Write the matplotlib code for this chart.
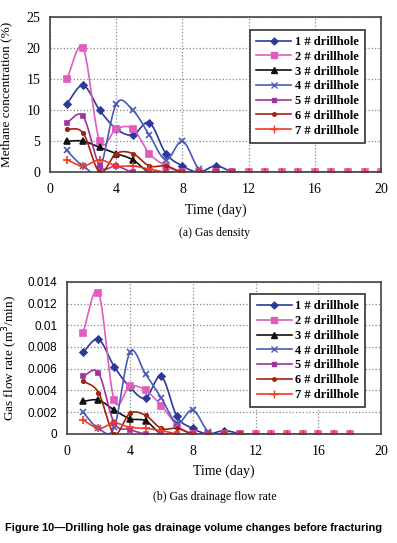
import numpy as np
import matplotlib.pyplot as plt

# days on the x axis
days = list(range(1, 21))

# (a) methane concentration (%)
conc_1 = [11, 14, 10, 7, 6, 8, 3, 1, 0, 1, 0]
conc_2 = [15, 20, 5, 7, 7, 3, 1, 0, 0, 0, 0, 0, 0, 0, 0, 0, 0, 0, 0, 0]
conc_3 = [5, 5, 4, 3, 2, 0, 0, 0, 0, 0, 0]
conc_4 = [3.5, 1, 0.5, 11, 10, 6, 2, 5, 0.5, 0, 0]
conc_5 = [8, 9, 1, 1, 0, 0, 0, 0, 0, 0, 0]
conc_6 = [7, 6.3, 0, 3, 3, 1, 1, 0, 0, 0, 0]
conc_7 = [2, 1, 2, 1, 1, 0.5, 0, 0, 0, 0, 0, 0, 0, 0, 0, 0, 0, 0, 0, 0]

# (b) gas flow rate (m3/min)
flow_1 = [0.0075, 0.0087, 0.0062, 0.0043, 0.0033, 0.0053, 0.0016, 0.0005, 0, 0.0003, 0]
flow_2 = [0.0093, 0.013, 0.0031, 0.0044, 0.004, 0.0026, 0.0008, 0, 0, 0, 0,
          0, 0, 0, 0, 0, 0, 0]
flow_3 = [0.003, 0.0031, 0.0022, 0.0014, 0.0012, 0, 0, 0, 0, 0, 0]
flow_4 = [0.002, 0.0005, 0.0006, 0.0075, 0.0055, 0.0033, 0.001, 0.0022, 0.0002, 0, 0]
flow_5 = [0.0053, 0.0056, 0.001, 0.0004, 0, 0, 0, 0, 0, 0, 0]
flow_6 = [0.0049, 0.0038, 0, 0.0019, 0.0017, 0.0005, 0.0005, 0, 0, 0, 0]
flow_7 = [0.0013, 0.0005, 0.001, 0.0006, 0.0005, 0.0003, 0, 0, 0, 0, 0,
          0, 0, 0, 0, 0, 0, 0]

labels = ['1 # drillhole', '2 # drillhole', '3 # drillhole', '4 # drillhole',
          '5 # drillhole', '6 # drillhole', '7 # drillhole']
colors = ['#2b3a9a', '#e05cbf', '#111111', '#4a5ab8', '#a2329e', '#a3230f', '#f03a2a']
markers = ['D', 's', '^', 'x', 's', 'o', '+']
msizes = [3.5, 4, 4, 5, 3.5, 2.5, 6]

serif = ['Liberation Serif', 'DejaVu Serif']
sans = ['Liberation Sans', 'DejaVu Sans']


def smooth(x, y, n=12):
    # catmull-rom curve through the points, like excel's smoothed lines
    x = np.asarray(x, float)
    y = np.asarray(y, float)
    if len(x) < 3:
        return x, y
    px = np.concatenate([[2 * x[0] - x[1]], x, [2 * x[-1] - x[-2]]])
    py = np.concatenate([[2 * y[0] - y[1]], y, [2 * y[-1] - y[-2]]])
    xs, ys = [], []
    t = np.linspace(0, 1, n, endpoint=False)
    for i in range(1, len(px) - 2):
        for p, out in ((px, xs), (py, ys)):
            p0, p1, p2, p3 = p[i - 1], p[i], p[i + 1], p[i + 2]
            out.extend(0.5 * (2 * p1 + (-p0 + p2) * t
                              + (2 * p0 - 5 * p1 + 4 * p2 - p3) * t ** 2
                              + (-p0 + 3 * p1 - 3 * p2 + p3) * t ** 3))
    xs.append(x[-1])
    ys.append(y[-1])
    return np.array(xs), np.array(ys)


def draw(ax, series, ymax, ystep, ylabel, tickfont, ylab_x):
    for vals, lab, c, m, ms in zip(series, labels, colors, markers, msizes):
        xd = days[:len(vals)]
        sx, sy = smooth(xd, vals)
        ax.plot(sx, sy, color=c, lw=1.2)
        ax.plot(xd, vals, ls='none', marker=m, color=c, ms=ms, mew=1.2)
        ax.plot([], [], color=c, lw=1.2, marker=m, ms=ms, label=lab)
    ax.set_xlim(0, 20)
    ax.set_ylim(0, ymax)
    ax.set_xticks(range(0, 21, 4))
    ax.set_yticks(np.arange(0, ymax + ystep / 2, ystep))
    ax.grid(True, ls=':', color='#888888', lw=0.9)
    for s in ax.spines.values():
        s.set_color('#444444')
        s.set_linewidth(1.2)
    ax.tick_params(axis='x', length=0, pad=8)
    ax.tick_params(axis='y', length=0, pad=7)
    for t in ax.get_xticklabels():
        t.set_fontfamily(serif)
        t.set_fontsize(10)
    for t in ax.get_yticklabels():
        t.set_fontfamily(tickfont)
        t.set_fontsize(10 if tickfont is serif else 8.5)
    ax.set_xlabel('Time (day)', family=serif, fontsize=10, labelpad=5)
    ax.set_ylabel(ylabel, family=serif, fontsize=9.5)
    ax.yaxis.set_label_coords(ylab_x, 0.5)
    leg = ax.legend(loc='upper right', bbox_to_anchor=(0.97, 0.96),
                    prop={'family': serif, 'size': 9, 'weight': 'bold'},
                    fancybox=False, edgecolor='#333333', framealpha=1,
                    labelspacing=0.22, handlelength=2.8, handletextpad=0.3,
                    borderpad=0.5)
    leg.get_frame().set_linewidth(1.2)


fig = plt.figure(figsize=(3.97, 5.43), dpi=100)

ax1 = fig.add_axes([0.126, 0.683, 0.834, 0.285])
draw(ax1, [conc_1, conc_2, conc_3, conc_4, conc_5, conc_6, conc_7],
     25, 5, 'Methane concentration (%)', serif, -0.115)

ax2 = fig.add_axes([0.169, 0.201, 0.791, 0.280])
draw(ax2, [flow_1, flow_2, flow_3, flow_4, flow_5, flow_6, flow_7],
     0.014, 0.002, 'Gas flow rate (m$^3$/min)', sans, -0.15)
ax2.set_yticklabels(['0', '0.002', '0.004', '0.006', '0.008', '0.01', '0.012', '0.014'])

fig.text(0.54, 1 - 233 / 543, '(a) Gas density', ha='center', va='center',
         family=serif, fontsize=8.5)
fig.text(0.54, 1 - 497 / 543, '(b) Gas drainage flow rate', ha='center', va='center',
         family=serif, fontsize=8.5)
fig.text(0.012, 1 - 528 / 543, 'Figure 10\u2014Drilling hole gas drainage volume changes before fracturing',
         ha='left', va='center', family=sans, fontsize=7.9, weight='bold')

fig.savefig('out.png', dpi=100)
